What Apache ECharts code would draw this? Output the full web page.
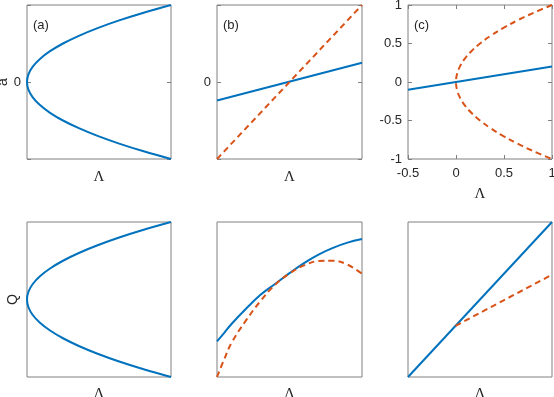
<!DOCTYPE html>
<html>
<head>
<meta charset="utf-8">
<script src="https://cdn.jsdelivr.net/npm/echarts@6/dist/echarts.min.js"></script>
<style>
  html, body { margin: 0; padding: 0; background: #fff; }
  #chart { width: 554px; height: 397px; }
</style>
</head>
<body>
<div id="chart"></div>
<script>
// ---- data ----
// (a) / (d): parabola, amplitude vs Lambda
const parabAmp = [-1, -0.9, -0.8, -0.7, -0.6, -0.5, -0.4, -0.3, -0.2, -0.1, 0, 0.1, 0.2, 0.3, 0.4, 0.5, 0.6, 0.7, 0.8, 0.9, 1];
const parabLam = [1, 0.81, 0.64, 0.49, 0.36, 0.25, 0.16, 0.09, 0.04, 0.01, 0, 0.01, 0.04, 0.09, 0.16, 0.25, 0.36, 0.49, 0.64, 0.81, 1];
// (b)
const bLam = [-1, 1];
const bBlue = [-0.24, 0.25];
const bRed = [-1, 1];
// (c)
const cBlueLam = [-0.5, 1];
const cBlue = [-0.1, 0.2];
const cRedAmp = [1, 0.9, 0.8, 0.7, 0.6, 0.5, 0.4, 0.3, 0.2, 0.1, 0, -0.1, -0.2, -0.3, -0.4, -0.5, -0.6, -0.7, -0.8, -0.9, -1];
const cRedLam = [1, 0.81, 0.64, 0.49, 0.36, 0.25, 0.16, 0.09, 0.04, 0.01, 0, 0.01, 0.04, 0.09, 0.16, 0.25, 0.36, 0.49, 0.64, 0.81, 1];
const cTicksX = [-0.5, 0, 0.5, 1];
const cTicksY = [-1, -0.5, 0, 0.5, 1];
// (e)
const eLam = [0, 0.05, 0.1, 0.2, 0.3, 0.4, 0.5, 0.6, 0.7, 0.8, 0.9, 1];
const eBlue = [0.23, 0.285, 0.342, 0.44, 0.53, 0.60, 0.67, 0.735, 0.79, 0.833, 0.867, 0.89];
const eRed = [0, 0.115, 0.22, 0.365, 0.49, 0.595, 0.668, 0.72, 0.748, 0.75, 0.725, 0.666];
// (f)
const fBlueLam = [0, 1];
const fBlue = [0, 1];
const fRedLam = [0.33, 1];
const fRed = [0.33, 0.66];

const panelLabels = ['(a)', '(b)', '(c)'];

const BLUE = '#0072BD';
const RED = '#D95319';
const BOX = '#808080';
const TXT = '#262626';
const sans = 'Liberation Sans';
const serif = 'Liberation Serif';

function zip(xs, ys) { return xs.map((x, i) => [x, ys[i]]); }

const grids = [
  { left: 27, top: 5, width: 144, height: 154 },
  { left: 217, top: 5, width: 145, height: 154 },
  { left: 408, top: 5, width: 144, height: 154 },
  { left: 27, top: 222, width: 144, height: 155 },
  { left: 217, top: 222, width: 145, height: 155 },
  { left: 408, top: 222, width: 144, height: 155 }
].map(g => Object.assign({
  show: true, borderColor: BOX, borderWidth: 1, backgroundColor: 'transparent',
  containLabel: false, outerBoundsMode: 'none'
}, g));

const noLine = { show: false, onZero: false };
const inTick = { show: true, inside: true, length: 4, lineStyle: { color: BOX } };

const lamName = {
  name: 'Λ', nameLocation: 'middle',
  nameTextStyle: { fontFamily: serif, fontSize: 15, color: TXT }
};
function plainX(grid, min, max, gap) {
  return Object.assign({
    type: 'value', gridIndex: grid, min: min, max: max, nameGap: gap,
    axisLine: noLine, axisTick: { show: false }, axisLabel: { show: false }, splitLine: { show: false }
  }, lamName);
}
function zeroY(grid, name, gap) {
  return {
    type: 'value', gridIndex: grid, min: -1, max: 1, interval: 1,
    name: name, nameLocation: 'middle', nameGap: gap,
    nameTextStyle: { fontFamily: sans, fontSize: 14, color: TXT },
    axisLine: noLine, axisTick: inTick,
    axisLabel: { fontFamily: sans, fontSize: 13, color: TXT, margin: 6, formatter: v => v === 0 ? '0' : '' },
    splitLine: { show: false }
  };
}
function mirrorY(grid, min, max, interval) {
  return {
    type: 'value', gridIndex: grid, position: 'right', min: min, max: max, interval: interval,
    axisLine: noLine, axisTick: inTick, axisLabel: { show: false }, splitLine: { show: false }
  };
}

const xAxes = [
  plainX(0, 0, 1, 11),
  plainX(1, -1, 1, 11),
  Object.assign({
    type: 'value', gridIndex: 2, min: -0.5, max: 1, interval: 0.5, nameGap: 28,
    axisLine: noLine, axisTick: inTick,
    axisLabel: { fontFamily: sans, fontSize: 13, color: TXT, margin: 8,
      formatter: v => cTicksX.indexOf(v) >= 0 ? String(v) : '' },
    splitLine: { show: false }
  }, lamName),
  plainX(3, 0, 1, 10),
  plainX(4, 0, 1, 10),
  plainX(5, 0, 1, 10),
  {
    type: 'value', gridIndex: 2, position: 'top', min: -0.5, max: 1, interval: 0.5,
    axisLine: noLine, axisTick: inTick, axisLabel: { show: false }, splitLine: { show: false }
  }
];

const plainY = (grid, name, gap) => ({
  type: 'value', gridIndex: grid, min: -1, max: 1, name: name, nameLocation: 'middle', nameGap: gap,
  nameTextStyle: { fontFamily: sans, fontSize: 14, color: TXT },
  axisLine: noLine, axisTick: { show: false }, axisLabel: { show: false }, splitLine: { show: false }
});

const yAxes = [
  zeroY(0, 'a', 15),
  zeroY(1, '', 0),
  {
    type: 'value', gridIndex: 2, min: -1, max: 1, interval: 0.5,
    axisLine: noLine, axisTick: inTick,
    axisLabel: { fontFamily: sans, fontSize: 13, color: TXT, margin: 6,
      formatter: v => cTicksY.indexOf(v) >= 0 ? String(v) : '' },
    splitLine: { show: false }
  },
  plainY(3, 'Q', 7),
  Object.assign(plainY(4, '', 0), { min: 0, max: 1 }),
  Object.assign(plainY(5, '', 0), { min: 0, max: 1 }),
  mirrorY(0, -1, 1, 1),
  mirrorY(1, -1, 1, 1),
  mirrorY(2, -1, 1, 0.5)
];

function solid(xi, yi, data, smooth) {
  return { type: 'line', xAxisIndex: xi, yAxisIndex: yi, data: data, smooth: smooth ? 0.4 : false,
    showSymbol: false, silent: true, lineStyle: { color: BLUE, width: 2 } };
}
function dashed(xi, yi, data, smooth) {
  return { type: 'line', xAxisIndex: xi, yAxisIndex: yi, data: data, smooth: smooth ? 0.4 : false,
    showSymbol: false, silent: true, lineStyle: { color: RED, width: 2, type: [6, 4] } };
}

const series = [
  solid(0, 0, zip(parabLam, parabAmp), true),
  solid(1, 1, zip(bLam, bBlue)),
  dashed(1, 1, zip(bLam, bRed)),
  solid(2, 2, zip(cBlueLam, cBlue)),
  dashed(2, 2, zip(cRedLam, cRedAmp), true),
  solid(3, 3, zip(parabLam, parabAmp), true),
  solid(4, 4, zip(eLam, eBlue), true),
  dashed(4, 4, zip(eLam, eRed), true),
  solid(5, 5, zip(fBlueLam, fBlue)),
  dashed(5, 5, zip(fRedLam, fRed))
];

const labelPos = [[33, 27], [223, 27], [414, 27]];
const graphic = panelLabels.map((t, i) => ({
  type: 'text', left: labelPos[i][0], top: labelPos[i][1] - 8,
  style: { text: t, font: '13px "Liberation Sans"', fill: TXT }
}));

const chart = echarts.init(document.getElementById('chart'), null, { renderer: 'canvas' });
chart.setOption({
  animation: false,
  grid: grids,
  xAxis: xAxes,
  yAxis: yAxes,
  series: series,
  graphic: graphic
});
</script>
</body>
</html>
